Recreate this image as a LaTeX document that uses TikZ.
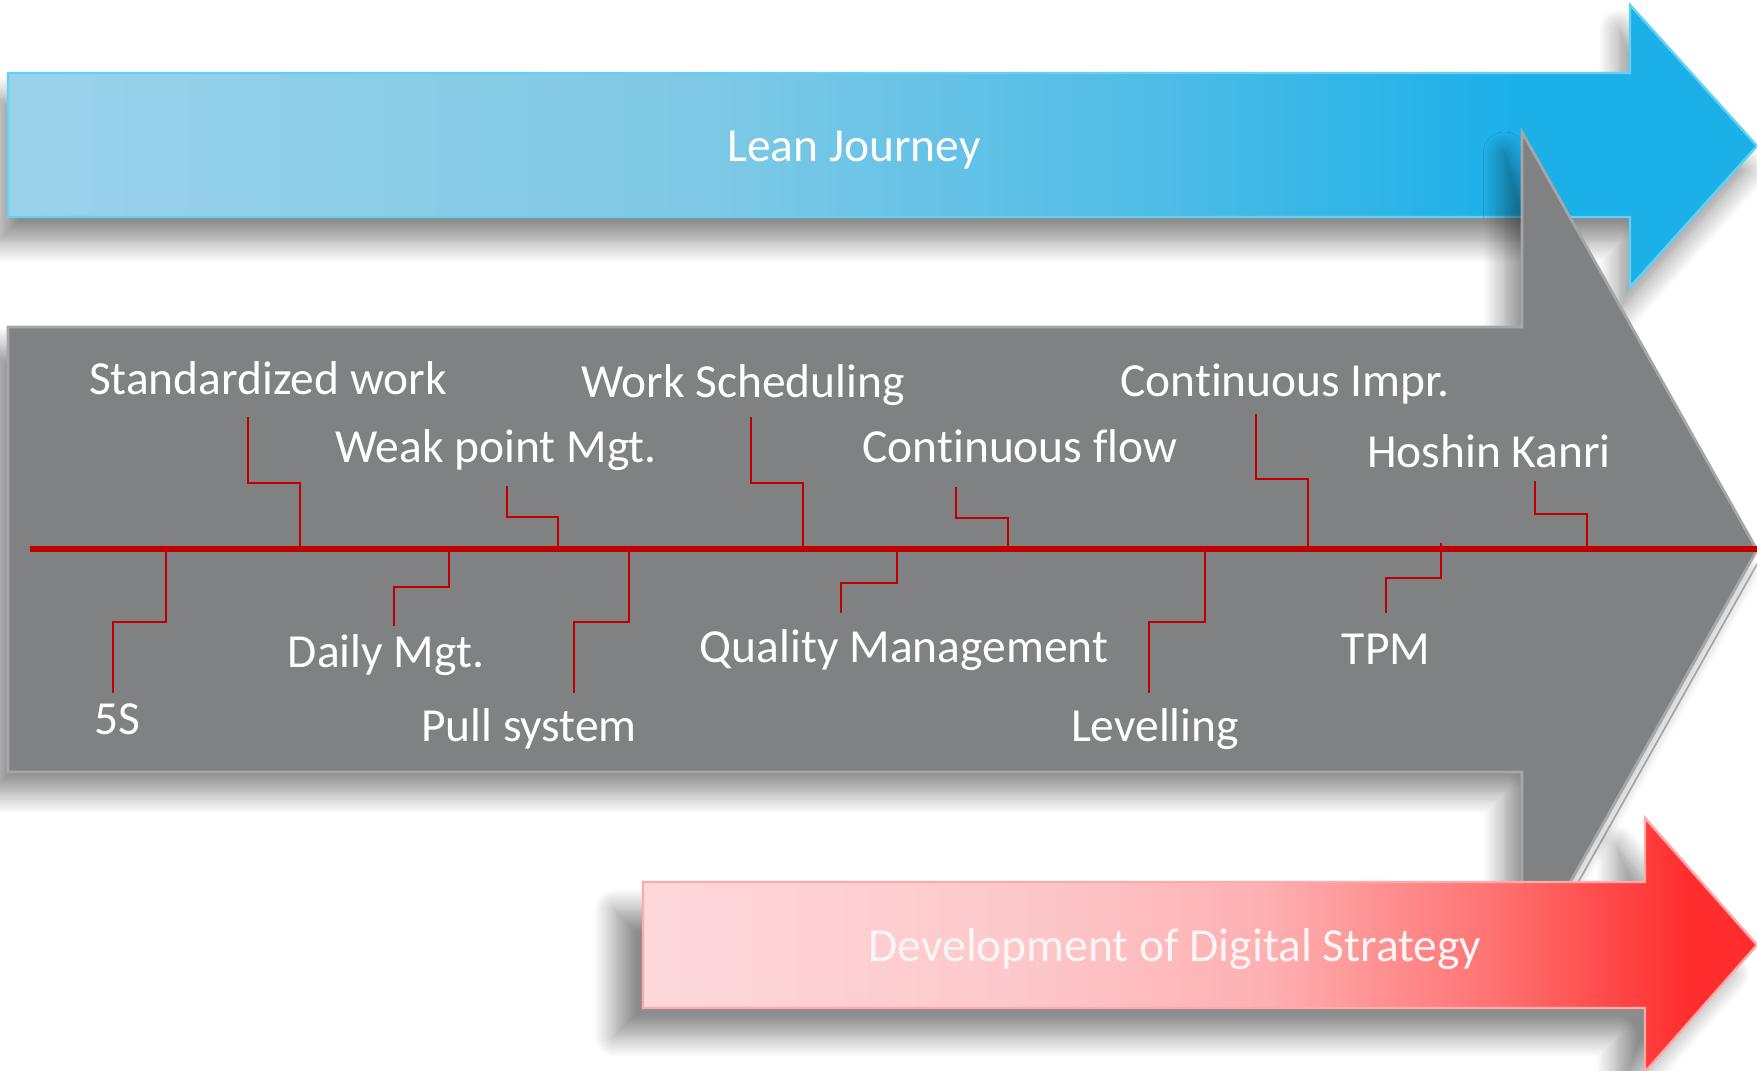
\documentclass[tikz,border=0pt]{standalone}
\usepackage{fontspec}
\setmainfont{Carlito}[RawFeature={-liga;-clig;-calt;-dlig}]
\usetikzlibrary{shadows.blur,calc}
\definecolor{arrowgray}{RGB}{128,129,131}
\definecolor{grayedge}{RGB}{165,166,168}
\definecolor{linered}{RGB}{192,0,0}
\definecolor{bA}{RGB}{155,210,233}
\definecolor{bB}{RGB}{126,201,230}
\definecolor{bC}{RGB}{78,188,230}
\definecolor{bD}{RGB}{28,176,233}
\definecolor{bEdge}{RGB}{95,210,245}
\definecolor{rA}{RGB}{253,216,219}
\definecolor{rB}{RGB}{253,200,203}
\definecolor{rC}{RGB}{254,176,178}
\definecolor{rD}{RGB}{255,115,115}
\definecolor{rE}{RGB}{255,45,45}
\definecolor{rEdge}{RGB}{255,170,170}
\pgfdeclarehorizontalshading{bluegrad}{100bp}{color(0bp)=(bA); color(25bp)=(bA); color(45bp)=(bB); color(58bp)=(bC); color(68bp)=(bD); color(100bp)=(bD)}
\pgfdeclarehorizontalshading{redgrad}{100bp}{color(0bp)=(rA); color(25bp)=(rA); color(42bp)=(rB); color(53bp)=(rC); color(63bp)=(rD); color(72bp)=(rE); color(100bp)=(rE)}
\tikzset{
  lbl/.style={text=white, font=\fontsize{13.5}{16}\selectfont, anchor=base, inner sep=0pt},
  mainline/.style={draw=linered, line width=1.8pt},
  conn/.style={draw=linered, line width=0.8pt},
}
\begin{document}
\begin{tikzpicture}[x=0.01cm, y=-0.01cm]
\useasboundingbox (0,0) rectangle (1757,1071);
% ---------- blue arrow ----------
\path[shading=bluegrad, draw=bEdge, line width=0.7pt,
  blur shadow={shadow xshift=-3pt, shadow yshift=-7pt, shadow blur radius=6pt, shadow opacity=45, shadow blur steps=12}]
  (8,73) -- (1630,73) -- (1630,5) -- (1757,146) -- (1630,287) -- (1630,217) -- (8,217) -- cycle;
\node[lbl] (lean) at (854,162) {Lean Journey};
% ---------- gray arrow ----------
\coordinate (gtip) at (1757,550);
\coordinate (gbot) at (1522,968);
\draw[grayedge!80, line width=0.5pt] ($(gtip)+(6,3.5)$) -- ($(gbot)+(6,3.5)$);
\path[fill=arrowgray, draw=grayedge, line width=0.8pt,
  blur shadow={shadow xshift=-5pt, shadow yshift=-6pt, shadow blur radius=6pt, shadow opacity=45, shadow blur steps=12}]
  (8,327) -- (1522,327) -- (1522,132) -- (gtip) -- (gbot) -- (1522,772) -- (8,772) -- cycle;
% main red line
\coordinate (lineL) at (30,549);
\coordinate (lineR) at (1757,549);
\draw[mainline] (lineL) -- (lineR);
% labels
\node[lbl] (std)   at (268,395)  {Standardized work};
\node[lbl] (weak)  at (496,463)  {Weak point Mgt.};
\node[lbl] (work)  at (743,398)  {Work Scheduling};
\node[lbl] (flow)  at (1020,463) {Continuous flow};
\node[lbl] (impr)  at (1285,397) {Continuous Impr.};
\node[lbl] (hosh)  at (1489,468) {Hoshin Kanri};
\node[lbl] (fives) at (117,735)  {5S};
\node[lbl] (daily) at (386,668)  {Daily Mgt.};
\node[lbl] (pull)  at (529,742)  {Pull system};
\node[lbl] (qual)  at (904,663)  {Quality Management};
\node[lbl] (level) at (1155,742) {Levelling};
\node[lbl] (tpm)   at (1386,665) {TPM};
% connectors (T = free end near label, K = knee, B = point on main line)
\coordinate (T1) at (248,417);  \coordinate (K1) at (300,483);  \coordinate (B1) at (300,549);
\coordinate (B2) at (166,549);  \coordinate (K2) at (113,622);  \coordinate (T2) at (113,693);
\coordinate (B3) at (449,549);  \coordinate (K3) at (394,587);  \coordinate (T3) at (394,626);
\coordinate (T4) at (507,486);  \coordinate (K4) at (558,517);  \coordinate (B4) at (558,549);
\coordinate (B5) at (629,549);  \coordinate (K5) at (574,622);  \coordinate (T5) at (574,693);
\coordinate (T6) at (751,417);  \coordinate (K6) at (803,483);  \coordinate (B6) at (803,549);
\coordinate (B7) at (897,549);  \coordinate (K7) at (841,583);  \coordinate (T7) at (841,613);
\coordinate (T8) at (956,487);  \coordinate (K8) at (1008,518); \coordinate (B8) at (1008,549);
\coordinate (B9) at (1205,549); \coordinate (K9) at (1149,622); \coordinate (T9) at (1149,693);
\coordinate (T10) at (1256,414); \coordinate (K10) at (1308,479); \coordinate (B10) at (1308,549);
\coordinate (B11) at (1441,543); \coordinate (K11) at (1386,578); \coordinate (T11) at (1386,613);
\coordinate (T12) at (1535,481); \coordinate (K12) at (1587,514); \coordinate (B12) at (1587,549);
\foreach \i in {1,4,6,8,10,12} { \draw[conn] (T\i) |- (K\i) -- (B\i); }
\foreach \i in {2,3,5,7,9,11} { \draw[conn] (B\i) |- (K\i) -- (T\i); }
% ---------- red arrow ----------
\path[shading=redgrad, draw=rEdge, line width=0.7pt,
  blur shadow={shadow xshift=-8pt, shadow yshift=-8pt, shadow blur radius=6pt, shadow opacity=45, shadow blur steps=12}]
  (643,882) -- (1645,882) -- (1645,818) -- (1757,945) -- (1645,1072) -- (1645,1008) -- (643,1008) -- cycle;
\node[lbl, text=white!96!red] (dev) at (1175,962) {Development of Digital Strategy};
\end{tikzpicture}
\end{document}
